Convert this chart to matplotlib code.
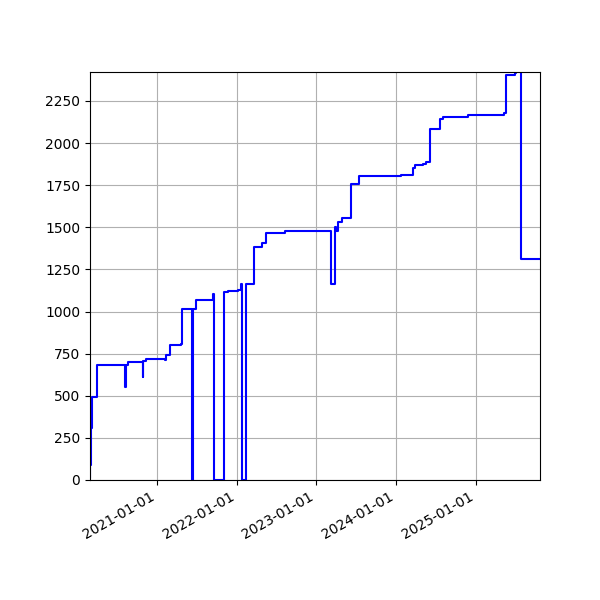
import numpy as np
import pandas as pd
import matplotlib
matplotlib.use("Agg")
import matplotlib.pyplot as plt
import matplotlib.dates as mdates

# step changes (steps-post)
dates = ["2020-02-29", "2020-03-02", "2020-03-04", "2020-03-09", "2020-03-31",
         "2020-08-09", "2020-08-12", "2020-08-21", "2020-10-29", "2020-10-31",
         "2020-11-13", "2021-02-05", "2021-02-10", "2021-02-28", "2021-04-23",
         "2021-04-26", "2021-06-10", "2021-06-15", "2021-07-01", "2021-09-13",
         "2021-09-19", "2021-11-03", "2021-11-23", "2022-01-07", "2022-01-21",
         "2022-01-24", "2022-02-15", "2022-03-22", "2022-04-29", "2022-05-18",
         "2022-08-11", "2023-03-12", "2023-03-27", "2023-03-31", "2023-04-10",
         "2023-05-01", "2023-06-08", "2023-07-16", "2024-01-27", "2024-03-19",
         "2024-03-31", "2024-05-04", "2024-05-19", "2024-06-08", "2024-07-21",
         "2024-08-03", "2024-11-29", "2025-05-13", "2025-05-18", "2025-06-29",
         "2025-07-06", "2025-07-30", "2025-10-23"]
values = [20, 90, 310, 495, 683,
          554, 683, 702, 613, 705,
          718, 710, 742, 801, 807,
          1015, 0, 1015, 1069, 1102,
          0, 1114, 1120, 1130, 1163,
          0, 1163, 1385, 1409, 1465,
          1480, 1163, 1504, 1480, 1534,
          1557, 1757, 1805, 1813, 1850,
          1872, 1878, 1890, 2084, 2141,
          2153, 2165, 2177, 2402, 2414,
          2480, 1312, 1312]

x = pd.to_datetime(dates)

fig = plt.figure(figsize=(6, 6), dpi=100)
ax = fig.add_subplot(111)
fig.subplots_adjust(left=0.15, bottom=0.2, right=0.9, top=0.88)

ax.plot(x, values, color='blue', drawstyle='steps-post')
ax.set_xlim(x[0], x[-1])
ax.set_ylim(0, 2422)
ax.set_yticks(np.arange(0, 2251, 250))
ax.xaxis.set_major_locator(mdates.YearLocator())
ax.xaxis.set_major_formatter(mdates.DateFormatter('%Y-%m-%d'))
ax.grid(True)
fig.autofmt_xdate()
fig.subplots_adjust(left=0.15, bottom=0.2, right=0.9, top=0.88)

plt.savefig("out.png", dpi=100)
